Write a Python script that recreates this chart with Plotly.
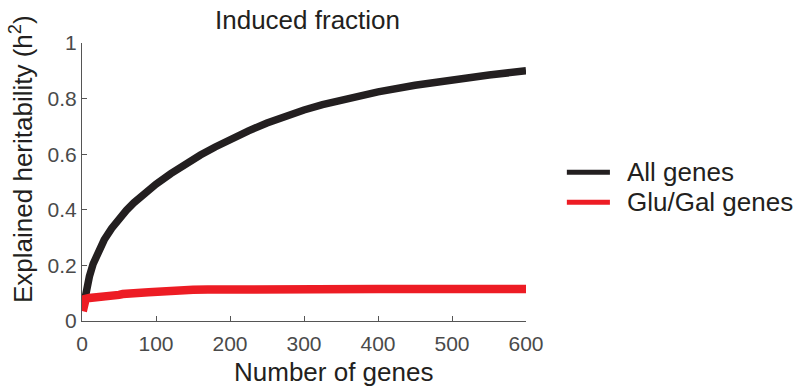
import plotly.graph_objects as go

# Cumulative explained heritability as genes are added
all_genes_n = [1, 2, 3, 4, 5, 6, 8, 10, 15, 20, 25, 30, 40, 50, 60, 70, 80, 90, 100,
               120, 140, 160, 180, 200, 225, 250, 275, 300, 325, 350, 375, 400, 450,
               500, 550, 600]
all_genes_h2 = [0.040, 0.055, 0.070, 0.085, 0.100, 0.113, 0.140, 0.160, 0.205, 0.240,
                0.268, 0.292, 0.333, 0.368, 0.398, 0.425, 0.450, 0.472, 0.492,
                0.530, 0.565, 0.597, 0.626, 0.653, 0.684, 0.712, 0.737, 0.759, 0.778,
                0.795, 0.810, 0.824, 0.848, 0.868, 0.885, 0.900]

glugal_n = [1, 2, 3, 4, 5, 10, 20, 30, 40, 45, 50, 55, 60, 70, 80, 90, 100, 105, 110,
            120, 150, 170, 200, 300, 400, 500, 600]
glugal_h2 = [0.035, 0.045, 0.070, 0.078, 0.080, 0.083, 0.084, 0.085, 0.087, 0.090,
             0.094, 0.097, 0.099, 0.101, 0.102, 0.103, 0.105, 0.108, 0.110, 0.111,
             0.112, 0.113, 0.114, 0.114, 0.115, 0.115, 0.115]

series_names = ["All genes", "Glu/Gal genes"]
series_colors = ["#231f20", "#ed1c24"]

x_ticks = [0, 100, 200, 300, 400, 500, 600]
y_ticks = [0, 0.2, 0.4, 0.6, 0.8, 1]
y_tick_text = ["0", "0.2", "0.4", "0.6", "0.8", "1"]

FONT = "Liberation Sans, Arial, Helvetica, sans-serif"
TEXT = "#231f20"
AXIS = "#555555"

fig = go.Figure()
fig.add_trace(go.Scatter(
    x=all_genes_n, y=all_genes_h2, mode="lines", name=series_names[0],
    line=dict(color=series_colors[0], width=7.5),
))
fig.add_trace(go.Scatter(
    x=glugal_n, y=glugal_h2, mode="lines", name=series_names[1],
    line=dict(color=series_colors[1], width=8.5),
))

axis_common = dict(
    showline=True, linecolor=AXIS, linewidth=1,
    ticks="inside", ticklen=5, tickcolor=AXIS, tickwidth=1,
    showgrid=False, zeroline=False,
    tickfont=dict(family=FONT, size=21, color="#4a4a4a"),
)

# Legend drawn beside the axes: short line sample plus label per series
legend_rows_y = [0.535, 0.427]
legend_shapes = []
legend_labels = []
for name, color, ly in zip(series_names, series_colors, legend_rows_y):
    legend_shapes.append(dict(
        type="line", xref="paper", yref="paper",
        x0=1.092, x1=1.189, y0=ly, y1=ly,
        line=dict(color=color, width=5),
    ))
    legend_labels.append(dict(
        text=name, xref="paper", yref="paper", x=1.223, y=ly,
        xanchor="left", yanchor="middle", showarrow=False,
        font=dict(family=FONT, size=26, color=TEXT),
    ))

fig.update_layout(
    width=796, height=387,
    margin=dict(l=82, r=270, t=43, b=66),
    paper_bgcolor="white", plot_bgcolor="white",
    font=dict(family=FONT, color=TEXT),
    xaxis=dict(range=[0, 600], tickvals=x_ticks, ticklabelstandoff=4, **axis_common),
    yaxis=dict(range=[0, 1], tickvals=y_ticks, ticktext=y_tick_text, **axis_common),
    showlegend=False,
    shapes=legend_shapes,
    annotations=[
        dict(text="Induced fraction", xref="paper", yref="paper",
             x=0.509, y=1.083, xanchor="center", yanchor="middle",
             showarrow=False, font=dict(family=FONT, size=26, color=TEXT)),
        dict(text="Number of genes", xref="paper", yref="paper",
             x=0.567, y=-0.184, xanchor="center", yanchor="middle",
             showarrow=False, font=dict(family=FONT, size=26, color=TEXT)),
        dict(text="Explained heritability (h<sup>2</sup>)", xref="paper", yref="paper",
             x=-0.135, y=0.583, xanchor="center", yanchor="middle", textangle=-90,
             showarrow=False, font=dict(family=FONT, size=26, color=TEXT)),
    ] + legend_labels,
)

fig.write_html("out.html")
